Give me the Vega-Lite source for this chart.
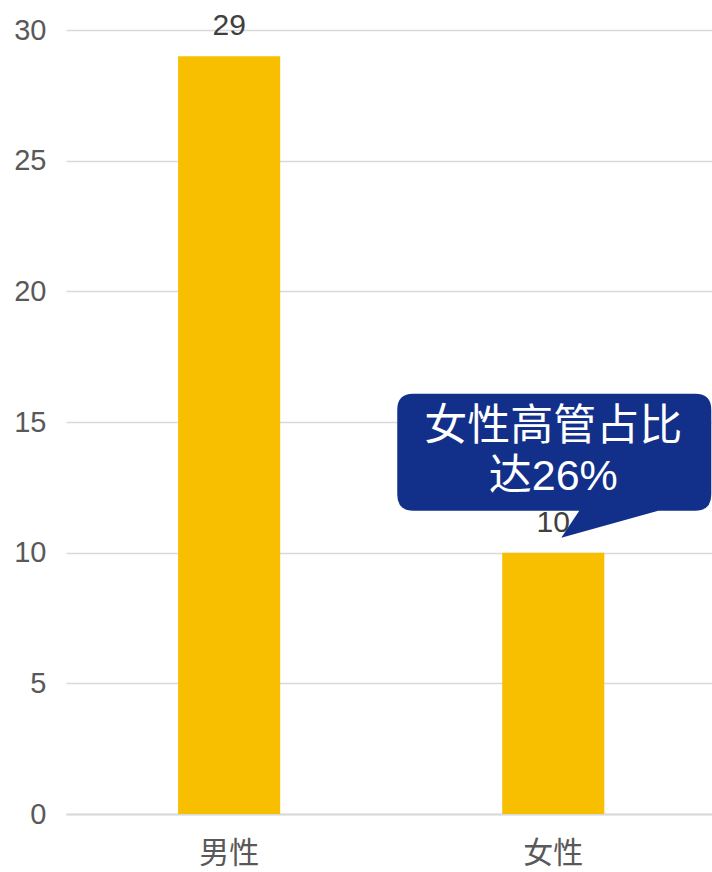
{
  "$schema": "https://vega.github.io/schema/vega-lite/v6.json",
  "width": 646,
  "height": 784,
  "autosize": {"type": "none"},
  "padding": {"left": 66, "top": 30, "right": 0, "bottom": 58},
  "background": "white",
  "config": {
    "view": {"stroke": null},
    "font": "Liberation Sans, Noto Sans CJK SC, sans-serif"
  },
  "data": {
    "values": [
      {"cat": "男性", "v": 29},
      {"cat": "女性", "v": 10}
    ]
  },
  "encoding": {
    "x": {
      "field": "cat", "type": "nominal", "sort": null,
      "scale": {"paddingInner": 0.685, "paddingOuter": 0.339, "align": 0.51},
      "axis": {
        "title": null, "labelAngle": 0, "ticks": false,
        "domain": true, "domainColor": "#d9d9d9", "domainWidth": 2,
        "labelFontSize": 30, "labelColor": "#595959", "labelPadding": 24,
        "labelFont": "Liberation Sans, Noto Sans CJK SC"
      }
    },
    "y": {
      "field": "v", "type": "quantitative",
      "scale": {"domain": [0, 30], "nice": false},
      "axis": {
        "title": null, "values": [0, 5, 10, 15, 20, 25, 30],
        "ticks": false, "domain": false,
        "gridColor": "#d9d9d9", "gridWidth": 1.5,
        "labelFontSize": 29, "labelColor": "#595959", "labelPadding": 20
      }
    }
  },
  "layer": [
    {"mark": {"type": "bar", "color": "#F8BE00"}},
    {
      "mark": {"type": "text", "baseline": "alphabetic", "dy": -21, "fontSize": 30, "color": "#404040"},
      "encoding": {"text": {"field": "v", "type": "quantitative"}}
    },
    {
      "transform": [{"filter": "datum.cat === '女性'"}],
      "mark": {
        "type": "point", "filled": true, "opacity": 1, "size": 4,
        "color": "#12308A", "strokeWidth": 0,
        "shape": "M -140 -159 L 142 -159 Q 158 -159 158 -143 L 158 -58 Q 158 -42 142 -42 L 105 -42 L 8 -15 L 26 -42 L -140 -42 Q -156 -42 -156 -58 L -156 -143 Q -156 -159 -140 -159 Z"
      }
    },
    {
      "transform": [
        {"filter": "datum.cat === '女性'"}
      ],
      "mark": {
        "type": "text", "baseline": "middle", "align": "center",
        "dy": -126, "lineHeight": 50, "fontSize": 43, "color": "white",
        "font": "Liberation Sans, Noto Sans CJK SC"
      },
      "encoding": {"text": {"value": ["女性高管占比", "达26%"]}}
    }
  ]
}
